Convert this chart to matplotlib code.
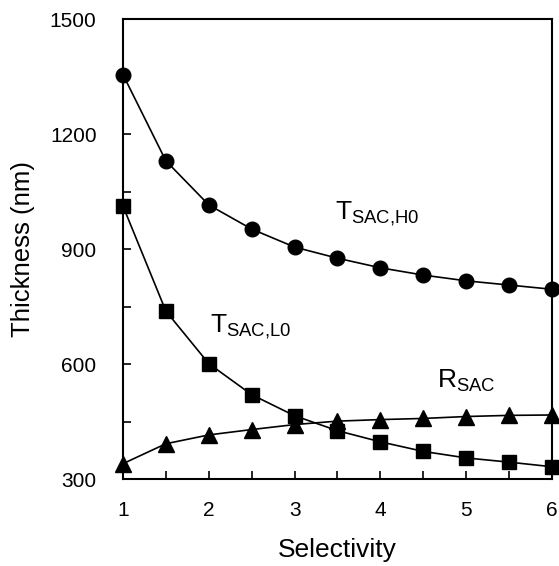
import numpy as np
import matplotlib
matplotlib.use("Agg")
import matplotlib.pyplot as plt
from matplotlib.ticker import MultipleLocator

plt.rcParams['font.family'] = ['Liberation Sans', 'DejaVu Sans']
plt.rcParams['mathtext.fontset'] = 'custom'
plt.rcParams['mathtext.rm'] = 'Liberation Sans'
plt.rcParams['mathtext.it'] = 'Liberation Sans'

# selectivity values and the three thickness curves (nm)
selectivity = [1, 1.5, 2, 2.5, 3, 3.5, 4, 4.5, 5, 5.5, 6]
t_sac_h0 = [1355, 1130, 1015, 952, 905, 876, 851, 832, 817, 806, 795]
t_sac_l0 = [1012, 738, 601, 520, 465, 426, 397, 372, 355, 344, 332]
r_sac = [340, 392, 415, 429, 442, 451, 455, 458, 463, 466, 467]

fig = plt.figure(figsize=(5.59, 5.66), dpi=100)
ax = fig.add_axes([0.22, 0.1537, 0.7675, 0.8127])

line = dict(color='black', lw=1.2, clip_on=False, zorder=3)
ax.plot(selectivity, t_sac_h0, marker='o', markersize=10.5, **line)
ax.plot(selectivity, t_sac_l0, marker='s', markersize=10, **line)
ax.plot(selectivity, r_sac, marker='^', markersize=11, **line)

ax.set_xlim(1, 6)
ax.set_ylim(300, 1500)
ax.xaxis.set_major_locator(MultipleLocator(1))
ax.xaxis.set_minor_locator(MultipleLocator(0.5))
ax.yaxis.set_major_locator(MultipleLocator(300))
ax.yaxis.set_minor_locator(MultipleLocator(150))
ax.tick_params(which='both', direction='in', length=6, width=1.2)
ax.tick_params(axis='x', which='major', labelsize=15, pad=16)
ax.tick_params(axis='y', which='major', labelsize=15, pad=19)
ax.tick_params(top=False, right=False, which='both')
for s in ax.spines.values():
    s.set_linewidth(1.5)

ax.set_xlabel('Selectivity', fontsize=19, labelpad=13)
ax.set_ylabel('Thickness (nm)', fontsize=18.5, labelpad=11)

ax.text(3.47, 977, r'T$_{\rm SAC{,}H0}$', fontsize=19)
ax.text(2.01, 682, r'T$_{\rm SAC{,}L0}$', fontsize=19)
ax.text(4.66, 539, r'R$_{\rm SAC}$', fontsize=19)

fig.savefig('out.png', dpi=100)
